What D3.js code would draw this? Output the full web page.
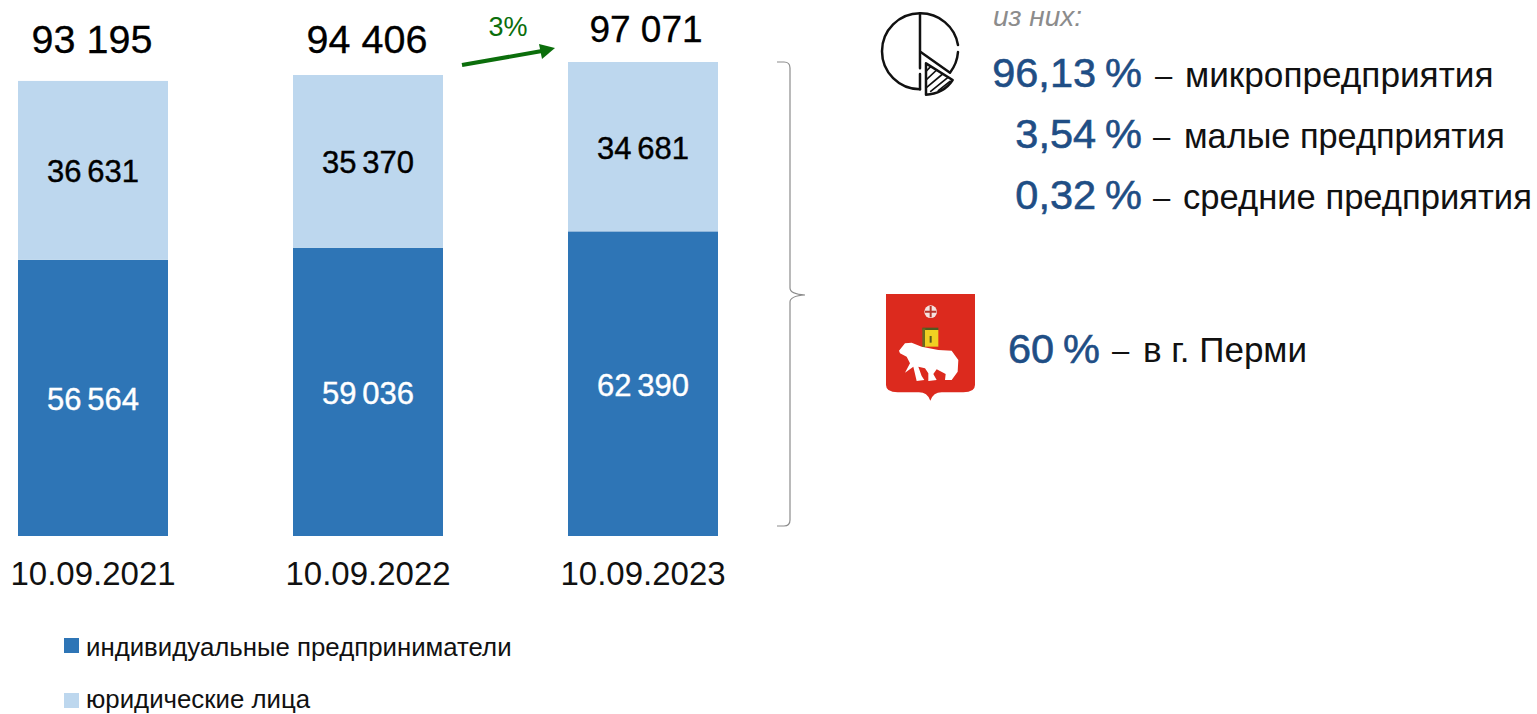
<!DOCTYPE html>
<html>
<head>
<meta charset="utf-8">
<style>
html, body { margin: 0; padding: 0; background: #fff; overflow: hidden; }
text { font-family: "Liberation Sans", Arial, sans-serif; }
</style>
<script src="https://cdn.jsdelivr.net/npm/d3@7"></script>
</head>
<body>
<div id="chart"></div>
<script>
var dates = ["10.09.2021", "10.09.2022", "10.09.2023"];
var ipValues = [56564, 59036, 62390];
var ulValues = [36631, 35370, 34681];
var totals = [93195, 94406, 97071];
var legendLabels = ["индивидуальные предприниматели", "юридические лица"];
var sharePercents = ["96,13 %", "3,54 %", "0,32 %"];
var shareLabels = ["микропредприятия", "малые предприятия", "средние предприятия"];
var growthLabel = "3%";

var colorIp = "#2e75b6", colorUl = "#bdd7ee", colorNavy = "#1f4e85";

var svg = d3.select("#chart").append("svg")
    .attr("width", 1537)
    .attr("height", 714);

var x = d3.scaleBand()
    .domain(dates)
    .range([-44.5, 780.5])
    .paddingInner(125 / 275)
    .paddingOuter(125 / 550);

var y = d3.scaleLinear()
    .domain([0, 100000])
    .range([536, 47.7]);

function fmt(v) {
    return d3.format(",")(v).replace(",", " ");
}

// stacked bars
var rows = dates.map(function (d, i) { return { date: d, ip: ipValues[i], ul: ulValues[i] }; });
var stacked = d3.stack().keys(["ip", "ul"])(rows);
var colors = { ip: colorIp, ul: colorUl };
var labelColors = { ip: "#ffffff", ul: "#000000" };

stacked.forEach(function (layer) {
    svg.append("g").selectAll("rect")
        .data(layer)
        .join("rect")
        .attr("x", function (d) { return x(d.data.date); })
        .attr("y", function (d) { return y(d[1]); })
        .attr("width", x.bandwidth())
        .attr("height", function (d) { return y(d[0]) - y(d[1]); })
        .attr("fill", colors[layer.key]);

    svg.append("g").selectAll("text")
        .data(layer)
        .join("text")
        .attr("x", function (d) { return x(d.data.date) + x.bandwidth() / 2; })
        .attr("y", function (d) { return (y(d[0]) + y(d[1])) / 2 + 12; })
        .attr("text-anchor", "middle")
        .attr("fill", labelColors[layer.key])
        .attr("stroke", labelColors[layer.key])
        .attr("stroke-width", 0.4)
        .style("font-size", "31px")
        .style("word-spacing", "-3px")
        .text(function (d) { return fmt(d.data[layer.key]); });
});

// totals over the bars, the last one sits higher and is a bit smaller
svg.append("g").selectAll("text")
    .data(totals)
    .join("text")
    .attr("x", function (d, i) { return x(dates[i]) + x.bandwidth() / 2 + (i == 2 ? 3 : -1); })
    .attr("y", function (d, i) { return i == 2 ? 42 : 53; })
    .attr("text-anchor", "middle")
    .attr("fill", "#000")
    .attr("stroke", "#000")
    .attr("stroke-width", 0.3)
    .style("font-size", function (d, i) { return i == 2 ? "37px" : "39.5px"; })
    .text(fmt);

// date axis
var axis = svg.append("g")
    .attr("transform", "translate(0,536)")
    .call(d3.axisBottom(x).tickSize(0).tickPadding(26));
axis.select(".domain").remove();
axis.selectAll("text")
    .attr("fill", "#111")
    .style("font-size", "33px")
    .style("font-family", '"Liberation Sans", Arial, sans-serif');

// legend, the second label is lifted a little so its descenders stay on the page
var legendY = [638, 693];
var legendBase = [656, 708];
[colorIp, colorUl].forEach(function (c, i) {
    svg.append("rect")
        .attr("x", 64).attr("y", legendY[i])
        .attr("width", 15).attr("height", 15)
        .attr("fill", c);
    svg.append("text")
        .attr("x", 86).attr("y", legendBase[i])
        .attr("fill", "#111")
        .style("font-size", "25.8px")
        .text(legendLabels[i]);
});

// growth arrow
svg.append("line")
    .attr("x1", 462).attr("y1", 65)
    .attr("x2", 542).attr("y2", 51)
    .attr("stroke", "#0b6e0b").attr("stroke-width", 4);
svg.append("path")
    .attr("d", "M555,48 L539,44 L542,59 Z")
    .attr("fill", "#0b6e0b");
svg.append("text")
    .attr("x", 508).attr("y", 36)
    .attr("text-anchor", "middle")
    .attr("fill", "#0b6e0b")
    .style("font-size", "27px")
    .text(growthLabel);

// brace
svg.append("path")
    .attr("d", "M777,62 H784 Q790,62 790,68 V288 Q790,294 805,295 Q790,296 790,302 V520 Q790,526 784,526 H777")
    .attr("fill", "none")
    .attr("stroke", "#8c8c8c")
    .attr("stroke-width", 1.2);

// pie icon
var icon = svg.append("g")
    .attr("transform", "translate(870,0) scale(0.3333)")
    .attr("fill", "none")
    .attr("stroke", "#111")
    .attr("stroke-width", 7.5)
    .attr("stroke-linecap", "round")
    .attr("stroke-linejoin", "round");
icon.append("path").attr("d", "M150,268 A114,114 0 0 1 150,40 A114,114 0 0 1 264,135");
icon.append("path").attr("d", "M264,156 A114,114 0 0 1 240,218 L152,156");
icon.append("path").attr("d", "M150,40 V205 M150,222 V268");
icon.append("path").attr("d", "M168,190 L248,240 A96,96 0 0 1 168,284 Z");
icon.append("path").attr("stroke-width", 5)
    .attr("d", "M170,212 L182,200 M170,238 L200,210 M170,262 L218,222 M182,274 L234,232 M205,272 L240,244");

// right side text
var shareBase = [87, 148, 209];
var dashX = [1155, 1153, 1153];
var wordX = [1185, 1184, 1183];
var wordSize = [35.2, 34.3, 34.6];

function percentText(px, py, anchor, txt) {
    svg.append("text")
        .attr("x", px).attr("y", py)
        .attr("text-anchor", anchor)
        .attr("fill", colorNavy)
        .attr("stroke", colorNavy)
        .attr("stroke-width", 0.6)
        .style("font-size", "41.5px")
        .style("word-spacing", "-2.5px")
        .text(txt);
}

function dashText(px, py) {
    svg.append("text")
        .attr("x", px).attr("y", py)
        .attr("fill", "#111")
        .style("font-size", "31px")
        .text("–");
}

sharePercents.forEach(function (p, i) {
    percentText(1142, shareBase[i], "end", p);
    dashText(dashX[i], shareBase[i] - 1);
    svg.append("text")
        .attr("x", wordX[i]).attr("y", shareBase[i])
        .attr("fill", "#111")
        .style("font-size", wordSize[i] + "px")
        .text(shareLabels[i]);
});

svg.append("text")
    .attr("x", 993).attr("y", 26)
    .attr("fill", "#8c8c8c")
    .style("font-size", "28px")
    .style("font-style", "italic")
    .text("из них:");

// Perm coat of arms
var blur = svg.append("defs").append("filter").attr("id", "soft");
blur.append("feGaussianBlur").attr("stdDeviation", 0.5);

var shield = svg.append("g").attr("transform", "translate(870,285) scale(0.3333)");
shield.append("path")
    .attr("d", "M48,27 H315 V300 Q315,322 280,322 H215 Q190,322 181,347 Q172,322 147,322 H83 Q48,322 48,300 Z")
    .attr("fill", "#dc2a1e");

var arms = svg.append("g")
    .attr("transform", "translate(895,300) scale(0.3333)")
    .attr("filter", "url(#soft)");
arms.append("path")
    .attr("d", "M12,152 L30,130 L50,128 L80,140 L130,150 L170,152 L190,180 L188,215 L170,240 L150,240 L152,222 L125,208 L115,222 L125,240 L100,243 L100,220 L90,205 L70,200 L80,228 L88,240 L65,243 L55,200 L30,218 L45,190 L35,170 L15,160 Z")
    .attr("fill", "#ffffff");
arms.append("rect").attr("x", 82).attr("y", 83).attr("width", 48).attr("height", 8).attr("fill", "#4f5a20");
arms.append("rect").attr("x", 82).attr("y", 85).attr("width", 9).attr("height", 56).attr("fill", "#6a6a20");
arms.append("rect").attr("x", 90).attr("y", 90).attr("width", 40).attr("height", 50).attr("fill", "#f0d020");
arms.append("rect").attr("x", 104).attr("y", 108).attr("width", 6).attr("height", 20).attr("fill", "#5a5a20");
arms.append("circle").attr("cx", 107).attr("cy", 35).attr("r", 19).attr("fill", "#f4e2e0");
arms.append("path").attr("d", "M107,18 V52 M90,35 H124").attr("stroke", "#b8352b").attr("stroke-width", 6);

percentText(1100, 363, "end", "60 %");
dashText(1112, 361);
svg.append("text")
    .attr("x", 1143).attr("y", 362)
    .attr("fill", "#111")
    .style("font-size", "35px")
    .text("в г. Перми");
</script>
</body>
</html>
